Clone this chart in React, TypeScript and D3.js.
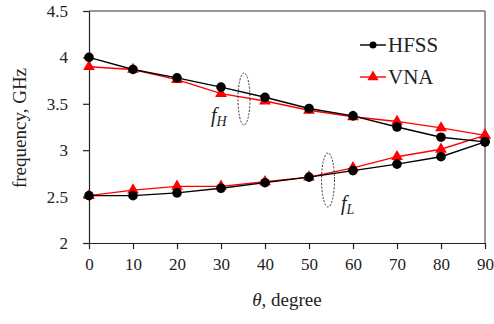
import React, { useEffect, useRef } from "react";
import * as d3 from "d3";

const angles = [0, 10, 20, 30, 40, 50, 60, 70, 80, 90];
const hfssHigh = [4.0, 3.87, 3.78, 3.68, 3.57, 3.45, 3.37, 3.25, 3.14, 3.09];
const vnaHigh = [3.9, 3.87, 3.76, 3.61, 3.53, 3.43, 3.36, 3.31, 3.24, 3.16];
const hfssLow = [2.51, 2.51, 2.54, 2.59, 2.65, 2.71, 2.78, 2.85, 2.93, 3.09];
const vnaLow = [2.51, 2.57, 2.61, 2.61, 2.66, 2.71, 2.81, 2.93, 3.01, 3.16];
const yTicks = [2, 2.5, 3, 3.5, 4, 4.5];
const xTicks = [0, 10, 20, 30, 40, 50, 60, 70, 80, 90];

const width = 494;
const height = 324;

const App: React.FC = () => {
  const svgRef = useRef<SVGSVGElement | null>(null);

  useEffect(() => {
    const svg = d3.select(svgRef.current);
    svg.selectAll("*").remove();

    const font = "Times New Roman, Liberation Serif, serif";
    const x = d3.scaleLinear().domain([0, 90]).range([89, 485]);
    const y = d3.scaleLinear().domain([2, 4.5]).range([243, 11]);

    // frame: top + right lines
    svg.append("line").attr("x1", 89).attr("x2", 485).attr("y1", y(4.5)).attr("y2", y(4.5))
      .attr("stroke", "#333").attr("stroke-width", 1);
    svg.append("line").attr("x1", 485).attr("x2", 485).attr("y1", y(4.5)).attr("y2", y(2))
      .attr("stroke", "#333").attr("stroke-width", 1);

    const xAxis = d3.axisBottom(x).tickValues(xTicks).tickSize(6).tickSizeOuter(0)
      .tickFormat((d) => `${d}`);
    const yAxis = d3.axisLeft(y).tickValues(yTicks).tickSize(6).tickSizeOuter(0)
      .tickFormat((d) => `${d}`);

    const gx = svg.append("g").attr("transform", `translate(0,${y(2)})`).call(xAxis)
      .attr("font-family", font).attr("font-size", 17);
    gx.selectAll("text").attr("fill", "#222").attr("dy", "1.05em");
    gx.selectAll("line, path").attr("stroke", "#222").attr("stroke-width", 1.2);

    const gy = svg.append("g").attr("transform", `translate(${x(0)},0)`).call(yAxis)
      .attr("font-family", font).attr("font-size", 17);
    gy.selectAll("text").attr("fill", "#222").attr("x", -21);
    gy.selectAll("line, path").attr("stroke", "#222").attr("stroke-width", 1.2);

    const series = [
      { vals: vnaHigh, color: "#ff0000", marker: "triangle" },
      { vals: vnaLow, color: "#ff0000", marker: "triangle" },
      { vals: hfssHigh, color: "#000", marker: "circle" },
      { vals: hfssLow, color: "#000", marker: "circle" },
    ];

    const line = d3.line<number>().x((_, i) => x(angles[i])).y((d) => y(d));
    const tri = d3.symbol().type(d3.symbolTriangle).size(60);

    // red first then black on top
    series.forEach((s) => {
      svg.append("path").datum(s.vals).attr("d", line).attr("fill", "none")
        .attr("stroke", s.color).attr("stroke-width", 1.4);
    });
    series.forEach((s) => {
      const g = svg.append("g");
      s.vals.forEach((v, i) => {
        if (s.marker === "circle") {
          g.append("circle").attr("cx", x(angles[i])).attr("cy", y(v)).attr("r", 4.8).attr("fill", s.color);
        } else {
          g.append("path").attr("d", tri()).attr("transform", `translate(${x(angles[i])},${y(v)})`)
            .attr("fill", s.color);
        }
      });
    });

    // legend
    const legend = [
      { name: "HFSS", color: "#000", marker: "circle", ly: 45 },
      { name: "VNA", color: "#ff0000", marker: "triangle", ly: 77 },
    ];
    legend.forEach((l) => {
      const g = svg.append("g");
      g.append("line").attr("x1", 360).attr("x2", 386).attr("y1", l.ly).attr("y2", l.ly)
        .attr("stroke", l.color).attr("stroke-width", 1.4);
      if (l.marker === "circle") {
        g.append("circle").attr("cx", 373).attr("cy", l.ly).attr("r", 3.5).attr("fill", l.color);
      } else {
        g.append("path").attr("d", d3.symbol().type(d3.symbolTriangle).size(55)())
          .attr("transform", `translate(373,${l.ly})`).attr("fill", l.color);
      }
      g.append("text").attr("x", 388).attr("y", l.ly + 7).attr("font-family", font)
        .attr("font-size", 21).attr("fill", "#222").text(l.name);
    });

    // dashed ellipses
    svg.append("ellipse").attr("cx", 244).attr("cy", 99).attr("rx", 6).attr("ry", 26)
      .attr("fill", "none").attr("stroke", "#333").attr("stroke-width", 1).attr("stroke-dasharray", "2,1.5");
    svg.append("ellipse").attr("cx", 328).attr("cy", 180).attr("rx", 6.5).attr("ry", 27)
      .attr("fill", "none").attr("stroke", "#333").attr("stroke-width", 1).attr("stroke-dasharray", "2,1.5");

    const fH = svg.append("text").attr("x", 211).attr("y", 122).attr("font-family", font)
      .attr("font-size", 20).attr("font-style", "italic").attr("fill", "#222");
    fH.append("tspan").text("f");
    fH.append("tspan").attr("font-size", 14).attr("dy", 4).text("H");

    const fL = svg.append("text").attr("x", 341).attr("y", 210).attr("font-family", font)
      .attr("font-size", 20).attr("font-style", "italic").attr("fill", "#222");
    fL.append("tspan").text("f");
    fL.append("tspan").attr("font-size", 14).attr("dy", 4).text("L");

    // axis titles
    svg.append("text").attr("transform", `translate(26,128) rotate(-90)`)
      .attr("text-anchor", "middle").attr("font-family", font).attr("font-size", 19)
      .attr("fill", "#222").text("frequency, GHz");

    const xt = svg.append("text").attr("x", 287).attr("y", 306).attr("text-anchor", "middle")
      .attr("font-family", font).attr("font-size", 19).attr("fill", "#222");
    xt.append("tspan").attr("font-style", "italic").text("θ");
    xt.append("tspan").text(", degree");
  }, []);

  return (
    <svg
      ref={svgRef}
      width={width}
      height={height}
      style={{ position: "absolute", left: 0, top: 0, background: "#fff" }}
    ></svg>
  );
};

export default App;
